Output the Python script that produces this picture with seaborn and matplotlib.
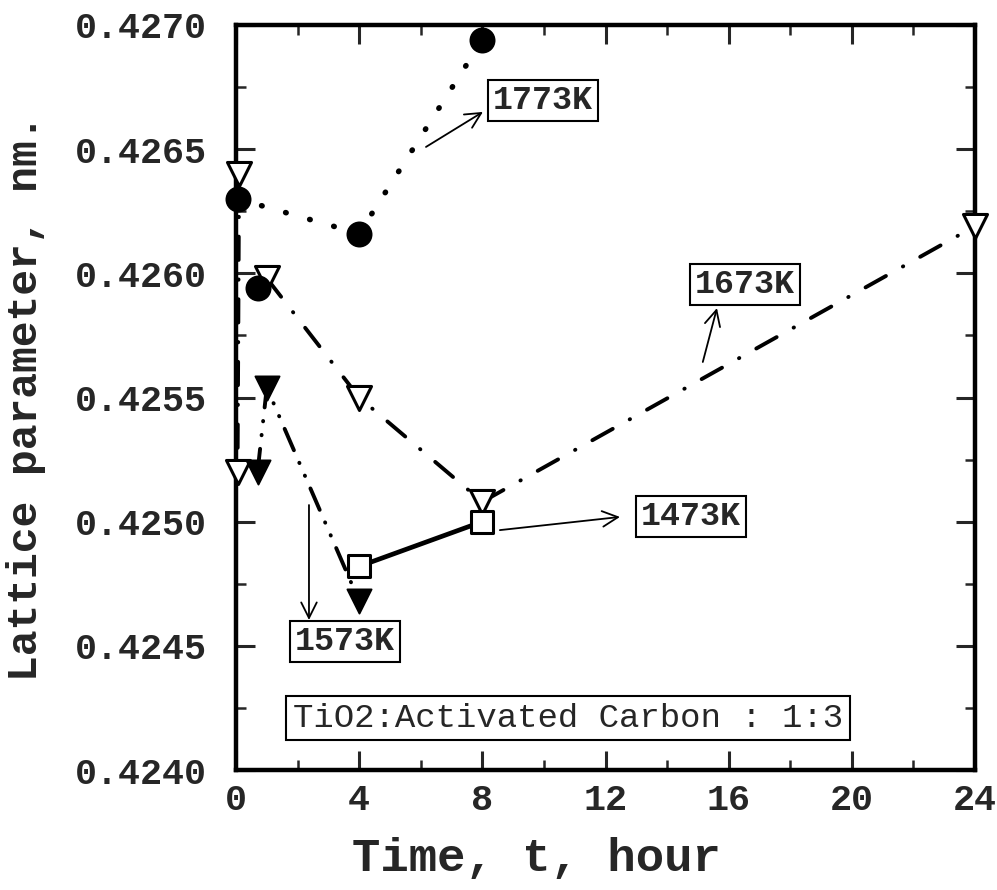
import matplotlib
matplotlib.use("Agg")
import matplotlib.pyplot as plt
import seaborn as sns
import pandas as pd
from matplotlib.ticker import MultipleLocator, FormatStrFormatter

# ---- data ----
t1773 = [0.05, 0.7, 4, 8]
v1773 = [0.42630, 0.42594, 0.42616, 0.42694]
seg1773 = [0, 1, 0, 0]

t1673 = [0.1, 0.05, 1, 4, 8, 24]
v1673 = [0.42640, 0.42520, 0.42598, 0.42550, 0.42508, 0.42619]
seg1673 = [0, 0, 1, 1, 1, 1]

t1573 = [0.7, 1, 4]
v1573 = [0.42520, 0.42554, 0.42468]

t1473 = [4, 8]
v1473 = [0.42482, 0.42500]

labels = ["1773K", "1673K", "1573K", "1473K"]
label_pos = [(9.97, 0.426694), (16.53, 0.425957), (3.54, 0.424519), (14.77, 0.425019)]
arrow_tail = [(6.17, 0.426509), (15.16, 0.425643), (2.37, 0.425067), (8.57, 0.424966)]
arrow_head = [(8.02, 0.426650), (15.62, 0.425860), (2.37, 0.424604), (12.47, 0.425019)]
note = "TiO2:Activated Carbon : 1:3"
note_pos = (10.78, 0.424209)

xticks = [0, 4, 8, 12, 16, 20, 24]

sns.set_theme(style="ticks")
plt.rcParams["font.family"] = ["Liberation Mono", "DejaVu Sans Mono"]

fig = plt.figure(figsize=(9.97, 8.90), dpi=100)
ax = fig.add_axes([236 / 997, (890 - 770) / 890, 739 / 997, 745 / 890])

df17 = pd.DataFrame({"t": t1773, "v": v1773, "seg": seg1773})
df16 = pd.DataFrame({"t": t1673, "v": v1673, "seg": seg1673})
df15 = pd.DataFrame({"t": t1573, "v": v1573})
df14 = pd.DataFrame({"t": t1473, "v": v1473})

# lines
sns.lineplot(data=df17, x="t", y="v", units="seg", estimator=None, sort=False, ax=ax,
             color="black", lw=4.0, linestyle=(0, (0.1, 4.4)), dash_capstyle="round",
             legend=False)
sns.lineplot(data=df16, x="t", y="v", units="seg", estimator=None, sort=False, ax=ax,
             color="black", lw=2.8, linestyle=(0, (6, 5, 0.1, 5)), dash_capstyle="round",
             legend=False)
sns.lineplot(data=df15, x="t", y="v", estimator=None, sort=False, ax=ax,
             color="black", lw=2.8, linestyle=(0, (6, 3.5, 0.1, 3.5, 0.1, 3.5)),
             dash_capstyle="round", legend=False)
sns.lineplot(data=df14, x="t", y="v", estimator=None, sort=False, ax=ax,
             color="black", lw=3.4, legend=False)

# markers
sns.scatterplot(data=df17, x="t", y="v", marker="o", s=300, color="black",
                edgecolor="black", ax=ax, zorder=5, clip_on=False, legend=False)
sns.scatterplot(data=df16, x="t", y="v", marker="v", s=300, facecolor="white",
                edgecolor="black", linewidth=2.2, ax=ax, zorder=4, clip_on=False, legend=False)
sns.scatterplot(data=df15, x="t", y="v", marker="v", s=300, color="black",
                edgecolor="black", ax=ax, zorder=5, clip_on=False, legend=False)
sns.scatterplot(data=df14, x="t", y="v", marker="s", s=260, facecolor="white",
                edgecolor="black", linewidth=2.2, ax=ax, zorder=6, clip_on=False, legend=False)

# annotations
for lab, pos, tail, head in zip(labels, label_pos, arrow_tail, arrow_head):
    ax.text(pos[0], pos[1], lab, ha="center", va="center", fontsize=24,
            fontweight="bold", zorder=7,
            bbox=dict(boxstyle="square,pad=0.15", fc="white", ec="black", lw=1.5))
    ax.annotate("", xy=head, xytext=tail, zorder=7,
                arrowprops=dict(arrowstyle="->", lw=1.3, color="black",
                                mutation_scale=28, shrinkA=0, shrinkB=0))
ax.text(note_pos[0], note_pos[1], note, ha="center", va="center", fontsize=24.5,
        zorder=7, bbox=dict(boxstyle="square,pad=0.2", fc="white", ec="black", lw=1.5))

# axes
ax.set_xlim(0, 24)
ax.set_ylim(0.4240, 0.4270)
ax.set_xticks(xticks)
ax.xaxis.set_minor_locator(MultipleLocator(2))
ax.yaxis.set_major_locator(MultipleLocator(0.0005))
ax.yaxis.set_minor_locator(MultipleLocator(0.00025))
ax.yaxis.set_major_formatter(FormatStrFormatter("%.4f"))
ax.tick_params(which="major", direction="in", length=14, width=2.2, top=True, right=True,
               labelsize=26.5)
ax.tick_params(axis="x", which="major", pad=9)
ax.tick_params(axis="y", which="major", pad=21)
ax.tick_params(which="minor", direction="in", length=7, width=1.8, top=True, right=True)
for lab in ax.get_xticklabels() + ax.get_yticklabels():
    lab.set_fontweight("bold")
for sp in ax.spines.values():
    sp.set_linewidth(3.2)
    sp.set_color("black")

ax.set_xlabel("Time, t, hour", fontsize=34, fontweight="bold")
ax.set_ylabel("Lattice parameter, nm.", fontsize=31, fontweight="bold")
ax.xaxis.set_label_coords(0.407, -0.09)
ax.yaxis.set_label_coords(-0.257, 0.5)

fig.savefig("out.png", dpi=100, facecolor="white")
